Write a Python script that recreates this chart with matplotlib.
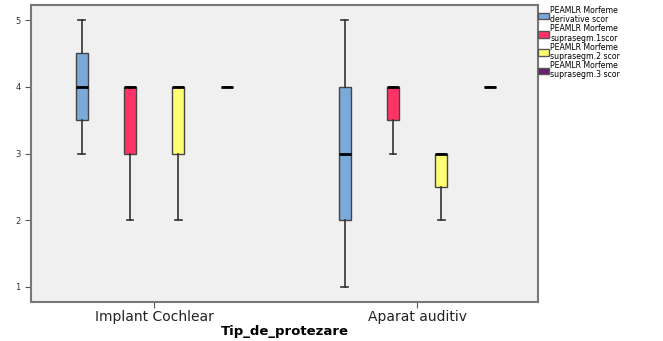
import matplotlib
matplotlib.use("Agg")
import matplotlib.pyplot as plt
from matplotlib.patches import Patch

# categories and series
groups = ["Implant Cochlear", "Aparat auditiv"]
series = ["PEAMLR Morfeme\nderivative scor", "PEAMLR Morfeme\nsuprasegm.1scor",
          "PEAMLR Morfeme\nsuprasegm.2 scor", "PEAMLR Morfeme\nsuprasegm.3 scor"]
colors = ["#7BA9D9", "#FF3366", "#FFFF73", "#6A1F6E"]

# five-number summaries per series: [whislo, q1, med, q3, whishi] for each group
derivative = [[3, 3.5, 4, 4.5, 5], [1, 2, 3, 4, 5]]
supra1 = [[2, 3, 4, 4, 4], [3, 3.5, 4, 4, 4]]
supra2 = [[2, 3, 4, 4, 4], [2, 2.5, 3, 3, 3]]
supra3 = [[4, 4, 4, 4, 4], [4, 4, 4, 4, 4]]
all_stats = [derivative, supra1, supra2, supra3]

fig = plt.figure(figsize=(6.63, 3.41), dpi=100)
ax = fig.add_axes([0.0468, 0.1144, 0.7647, 0.8709])
ax.set_facecolor("#F0F0F0")

offsets = [-0.275, -0.092, 0.092, 0.278]
for s, (stats, col) in enumerate(zip(all_stats, colors)):
    for g, v in enumerate(stats):
        d = dict(whislo=v[0], q1=v[1], med=v[2], q3=v[3], whishi=v[4], fliers=[])
        ax.bxp([d], positions=[g + offsets[s]], widths=0.047, patch_artist=True,
               showfliers=False,
               boxprops=dict(facecolor=col, edgecolor="#444444", linewidth=1),
               medianprops=dict(color="black", linewidth=2),
               whiskerprops=dict(color="#333333", linewidth=1.2),
               capprops=dict(color="#333333", linewidth=1.2),
               capwidths=0.025)

ax.set_xlim(-0.468, 1.46)
ax.set_ylim(0.775, 5.225)
ax.set_xticks([0, 1])
ax.set_xticklabels(groups, fontsize=10, color="#222222")
ax.set_yticks([1, 2, 3, 4, 5])
ax.set_yticklabels(["1", "2", "3", "4", "5"], fontsize=6, color="#333333")
ax.tick_params(axis="both", length=4, color="#555555")
ax.tick_params(axis="x", pad=1.5)
ax.set_xlabel("Tip_de_protezare", fontsize=9.5, fontweight="bold", labelpad=1)
for sp in ax.spines.values():
    sp.set_color("#777777")
    sp.set_linewidth(1.5)

handles = [Patch(facecolor=c, edgecolor="#555555") for c in colors]
leg = fig.legend(handles, series, loc="upper left",
                 bbox_to_anchor=(538 / 663, 1 - 6 / 341),
                 frameon=False, fontsize=5.6, handlelength=1.45, handleheight=0.95,
                 handletextpad=0.15, labelspacing=0.0, borderpad=0,
                 borderaxespad=0)
for t in leg.get_texts():
    t.set_linespacing(1.05)

fig.savefig("out.png", dpi=100)
